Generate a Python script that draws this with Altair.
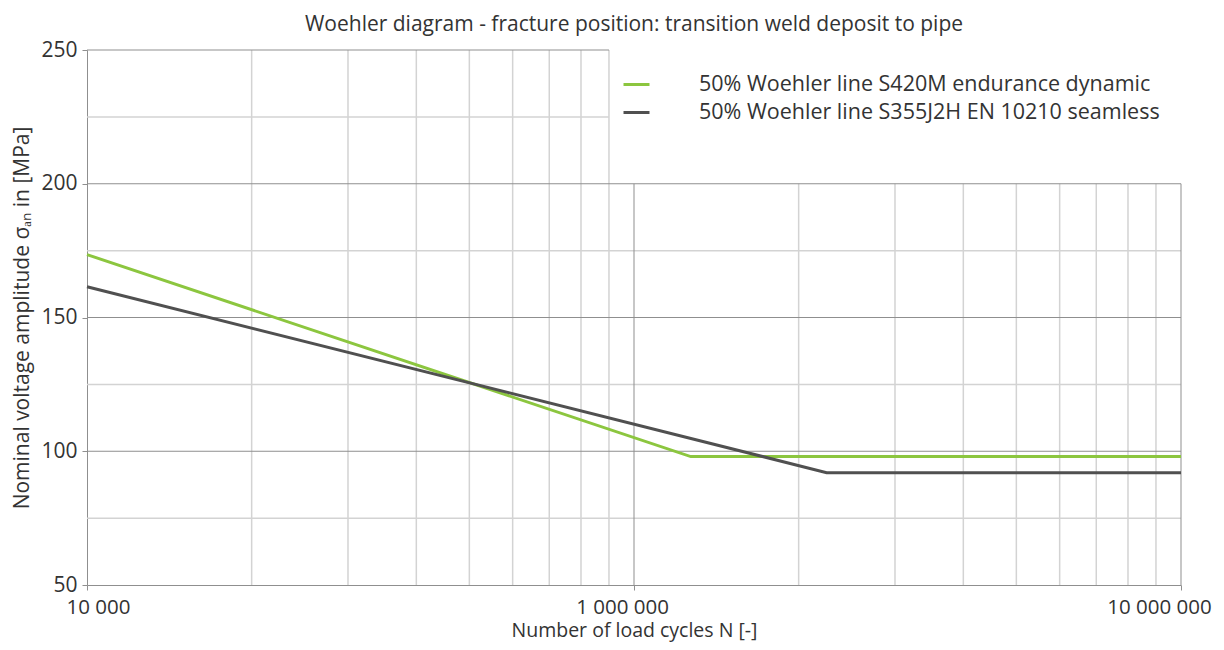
import json
import altair as alt
import pandas as pd

# ---------------- texts ----------------
TITLE = "Woehler diagram - fracture position: transition weld deposit to pipe"
X_TITLE = "Number of load cycles N [-]"
Y_TITLE = "Nominal voltage amplitude σₐₙ in [MPa]"

SERIES = [
    "50% Woehler line S420M endurance dynamic",
    "50% Woehler line S355J2H EN 10210 seamless",
]
COLORS = ["#8cc63f", "#505050"]

# ---------------- series values ----------------
green_n = [1e5, 1.27e6, 1e7]
green_s = [173.5, 98.0, 98.0]
dark_n = [1e5, 2.25e6, 1e7]
dark_s = [161.5, 92.0, 92.0]

# ---------------- axes / grid ----------------
x_ticks = [1e5, 1e6, 1e7]
x_tick_labels = ["10 000", "1 000 000", "10 000 000"]
x_grid_major = [1e6, 1e7]
x_grid_minor = [2e5, 3e5, 4e5, 5e5, 6e5, 7e5, 8e5, 9e5,
                2e6, 3e6, 4e6, 5e6, 6e6, 7e6, 8e6, 9e6]
y_ticks = [50, 100, 150, 200, 250]
y_grid_major = [100, 150, 200, 250]
y_grid_minor = [75, 125, 175, 225]

X_MIN, X_MAX = 1e5, 1e7
Y_MIN, Y_MAX = 50, 250
# corner of the white legend box (upper right)
BOX_X, BOX_Y = 9e5, 200

FONT = "Open Sans"
TEXT_COLOR = "#333333"

# ---------------- tables ----------------
lines_df = pd.DataFrame({
    "N": green_n + dark_n,
    "S": green_s + dark_s,
    "series": [SERIES[0]] * len(green_n) + [SERIES[1]] * len(dark_n),
})

def vgrid(vals):
    return pd.DataFrame({
        "x": vals,
        "y0": [Y_MIN] * len(vals),
        "y1": [Y_MAX if v <= BOX_X else BOX_Y for v in vals],
    })

def hgrid(vals):
    return pd.DataFrame({
        "y": vals,
        "x0": [X_MIN] * len(vals),
        "x1": [X_MAX if v <= BOX_Y else BOX_X for v in vals],
    })

label_map = {str(int(v)): t for v, t in zip(x_ticks, x_tick_labels)}

# horizontal nudges of the x tick labels, as in the original layout
label_shift = {1e5: 11, 1e6: -12, 1e7: -22}

x_scale = alt.Scale(type="log", domain=[X_MIN, X_MAX], nice=False)
y_scale = alt.Scale(domain=[Y_MIN, Y_MAX], nice=False, zero=False)

x_axis = alt.Axis(
    values=x_ticks, grid=False, title=X_TITLE,
    labelExpr=json.dumps(label_map) + "['' + datum.value]",
    labelFontSize=20.5, titleFontSize=19.5, labelPadding=7, titlePadding=4,
    tickSize=5, labelFlush=False,
    labelOffset={
        "condition": [
            {"test": f"datum.value == {int(v)}", "value": s}
            for v, s in label_shift.items()
        ],
        "value": 0,
    },
)
y_axis = alt.Axis(
    values=y_ticks, grid=False, title=Y_TITLE,
    labelFontSize=21, titleFontSize=21, labelPadding=5, titlePadding=8,
    tickSize=5,
)

def X(field):
    return alt.X(field, type="quantitative", scale=x_scale, axis=x_axis)

def Y(field):
    return alt.Y(field, type="quantitative", scale=y_scale, axis=y_axis)

MINOR = dict(color="#d3d3d3", strokeWidth=1.5)
MAJOR = dict(color="#8f8f8f", strokeWidth=1)

vminor = alt.Chart(vgrid(x_grid_minor)).mark_rule(**MINOR).encode(
    x=X("x"), y=Y("y0"), y2="y1")
vmajor = alt.Chart(vgrid(x_grid_major)).mark_rule(**MAJOR).encode(
    x=X("x"), y=Y("y0"), y2="y1")
hminor = alt.Chart(hgrid(y_grid_minor)).mark_rule(**MINOR).encode(
    y=Y("y"), x=X("x0"), x2="x1")
hmajor = alt.Chart(hgrid(y_grid_major)).mark_rule(**MAJOR).encode(
    y=Y("y"), x=X("x0"), x2="x1")

lines = alt.Chart(lines_df).mark_line(strokeWidth=3).encode(
    x=X("N"),
    y=Y("S"),
    color=alt.Color(
        "series:N",
        scale=alt.Scale(domain=SERIES, range=COLORS),
        sort=SERIES,
        legend=alt.Legend(
            title=None, orient="none", legendX=535, legendY=20,
            symbolType="stroke", symbolSize=676, symbolStrokeWidth=3,
            labelFontSize=21.5, labelOffset=48, rowPadding=3, padding=0,
            labelLimit=700,
        ),
    ),
)

chart = alt.layer(vminor, hminor, vmajor, hmajor, lines).properties(
    width=1094,
    height=535,
    title=alt.TitleParams(TITLE, fontSize=21, fontWeight="normal",
                          color=TEXT_COLOR, offset=4, font=FONT),
    autosize=alt.AutoSizeParams(type="none"),
    padding={"left": 79, "top": 42, "right": 35, "bottom": 57},
).configure_view(stroke=None).configure_axis(
    domainColor="#8f8f8f", tickColor="#8f8f8f",
    labelColor=TEXT_COLOR, titleColor=TEXT_COLOR,
    labelFont=FONT, titleFont=FONT, titleFontWeight="normal",
).configure_legend(labelFont=FONT, labelColor=TEXT_COLOR)

chart.save("out.html", embed_options={"renderer": "svg", "actions": False})
